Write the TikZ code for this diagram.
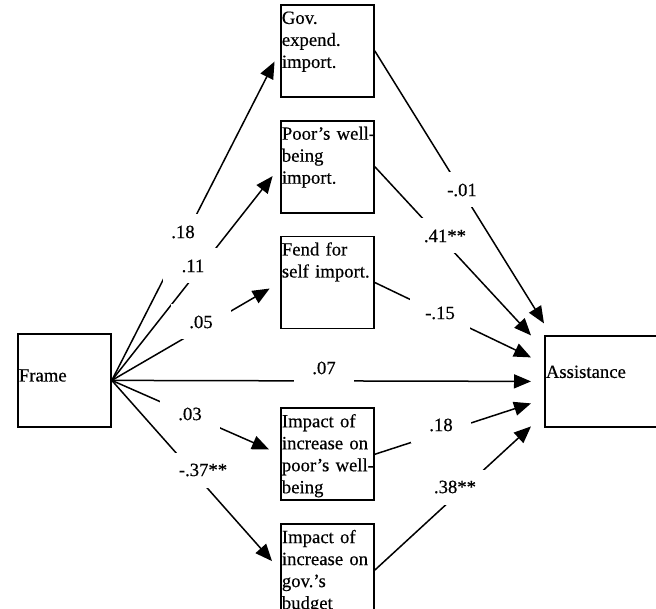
\documentclass[tikz,border=0pt]{standalone}
\usepackage{fontspec}
\setmainfont{Liberation Serif}[FakeBold=0.4]
\usetikzlibrary{positioning,arrows.meta}

\tikzset{
  var/.style={draw, line width=1.8pt, anchor=north west, inner sep=1pt,
    text width=91pt, align=left, text height=18pt, text depth=72pt},
  eff/.style={line width=1.5pt, -{Triangle[length=17pt,width=14pt]}},
  coef/.style={fill=white, minimum width=60pt, minimum height=35pt, inner sep=0pt},
}

\begin{document}
\begin{tikzpicture}[x=1pt,y=-1pt,font=\fontsize{18.7}{22}\selectfont]
\useasboundingbox (0,0) rectangle (656,609);
% variables
\node[var, text height=46.6pt, text depth=44.4pt] (frame) at (17,333) {Frame};
\node[var] (gov) at (280,4) {Gov.\\ expend.\\ import.};
\node[var, below=22pt of gov] (poor) {\mbox{Poor’s well-}\\ being\\ import.};
\node[var, below=22pt of poor] (fend) {Fend for\\ \mbox{self import.}};
\node[var, below=78pt of fend] (imppoor) {Impact of\\ \mbox{increase on}\\ \mbox{poor’s well-}\\ being};
\node[var, below=22pt of imppoor] (impgov) {Impact of\\ \mbox{increase on}\\ gov.’s\\ budget};
\node[var, text height=41pt, text depth=48pt, text width=114pt] (assist) at (544,335) {Assistance};

% paths from frame
\draw[eff, shorten >=12pt] (frame.east) -- (gov.west);
\draw[eff, shorten >=12pt] (frame.east) -- (poor.west);
\draw[eff, shorten >=12pt] (frame.east) -- (fend.west);
\draw[eff] (frame.east) -- ([xshift=-13pt]assist.west);
\draw[eff, shorten >=12pt] (frame.east) -- (imppoor.west);
\draw[eff, shorten >=12pt] (frame.east) -- (impgov.west);
% paths to assistance
\draw[eff] (gov.east) -- ([yshift=58pt]assist.west);
\draw[eff] (poor.east) -- ([xshift=-13pt,yshift=46pt]assist.west);
\draw[eff] (fend.east) -- ([xshift=-13pt,yshift=24pt]assist.west);
\draw[eff] (imppoor.east) -- ([xshift=-13pt,yshift=-22pt]assist.west);
\draw[eff] (impgov.east) -- ([xshift=-13pt,yshift=-45pt]assist.west);

% coefficients
\node[coef] (c1) at (183,232) {.18};
\node[coef] (c2) at (193,266) {.11};
\node[coef] (c3) at (201,322) {.05};
\node[coef] (c0) at (324,368) {.07};
\node[coef] (c4) at (190,414) {.03};
\node[coef] (c5) at (203,470) {-.37**};
\node[coef] (d1) at (462,190) {-.01};
\node[coef] (d2) at (445,236) {.41**};
\node[coef] (d3) at (440,313) {-.15};
\node[coef] (d4) at (441,425) {.18};
\node[coef] (d5) at (455,487) {.38**};
\end{tikzpicture}
\end{document}
